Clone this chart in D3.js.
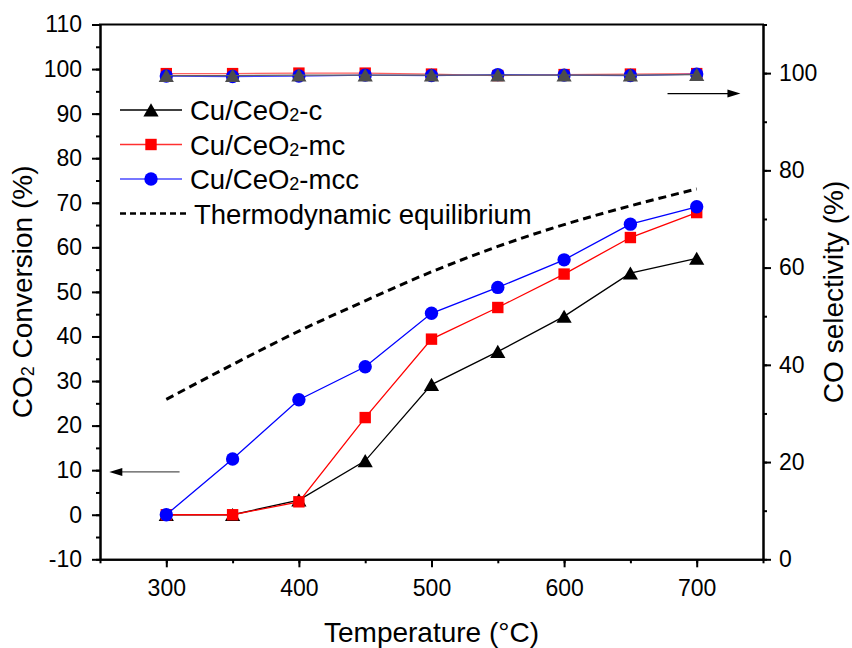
<!DOCTYPE html>
<html>
<head>
<meta charset="utf-8">
<script src="https://cdn.jsdelivr.net/npm/d3@7"></script>
<style>
  body { margin: 0; background: #fff; }
  svg { font-family: Arial, "Liberation Sans", sans-serif; }
</style>
</head>
<body>
<div class="container"></div>
<script>
const WIDTH = 852;
const HEIGHT = 648;

// temperatures (°C)
const temps = [300, 350, 400, 450, 500, 550, 600, 650, 700];

// CO2 conversion (%), left axis
const convC   = [0, 0, 3.3, 12.1, 29.2, 36.6, 44.5, 54.2, 57.5];
const convMC  = [0, 0, 2.9, 21.8, 39.4, 46.5, 54.0, 62.2, 67.8];
const convMCC = [0, 12.5, 25.8, 33.2, 45.2, 51.0, 57.2, 65.2, 69.1];
const equil   = [25.9, 33.7, 41.2, 48.0, 54.5, 60.2, 65.1, 69.3, 73.1];

// CO selectivity (%), right axis
const selC   = [99.5, 99.5, 99.6, 99.6, 99.6, 99.6, 99.6, 99.6, 99.7];
const selMC  = [99.9, 99.9, 100.0, 100.0, 99.8, 99.5, 99.7, 99.8, 99.9];
const selMCC = [99.4, 99.3, 99.4, 99.6, 99.5, 99.7, 99.6, 99.5, 99.8];

const xTicks = [300, 400, 500, 600, 700];
const yLeftTicks = [-10, 0, 10, 20, 30, 40, 50, 60, 70, 80, 90, 100, 110];
const yRightTicks = [0, 20, 40, 60, 80, 100];

const legendNames = ['c', 'mc', 'mcc'];

var margin = { top: 24.5, right: 89, bottom: 88.7, left: 100 };

var svg = d3.select('.container').append('svg')
  .attr('width', WIDTH)
  .attr('height', HEIGHT);

var x = d3.scaleLinear().domain([250, 750]).range([margin.left, WIDTH - margin.right]);
var yL = d3.scaleLinear().domain([-10, 110]).range([HEIGHT - margin.bottom, margin.top]);
var yR = d3.scaleLinear().domain([0, 110]).range([HEIGHT - margin.bottom, margin.top]);

var bottom = HEIGHT - margin.bottom;
var right = WIDTH - margin.right;
var plain = function (d) { return String(d); };

function styleAxis(g, fontSize) {
  g.selectAll('.domain').attr('stroke', '#000').attr('stroke-width', 2);
  g.selectAll('.tick line').attr('stroke', '#000').attr('stroke-width', 2);
  g.selectAll('.tick text').attr('fill', '#000').style('font-size', fontSize + 'px')
    .style('font-family', 'Arial, "Liberation Sans", sans-serif');
}

// minor ticks
svg.append('g').attr('transform', 'translate(0,' + bottom + ')')
  .call(d3.axisBottom(x).tickValues(d3.range(250, 751, 50)).tickSize(4).tickFormat('').tickSizeOuter(0))
  .call(function (g) { styleAxis(g, 0); });
svg.append('g').attr('transform', 'translate(' + margin.left + ',0)')
  .call(d3.axisLeft(yL).tickValues(d3.range(-10, 111, 5)).tickSize(4).tickFormat('').tickSizeOuter(0))
  .call(function (g) { styleAxis(g, 0); });
svg.append('g').attr('transform', 'translate(' + right + ',0)')
  .call(d3.axisRight(yR).tickValues(d3.range(0, 111, 10)).tickSize(4).tickFormat('').tickSizeOuter(0))
  .call(function (g) { styleAxis(g, 0); });

// major ticks
svg.append('g').attr('transform', 'translate(0,' + bottom + ')')
  .call(d3.axisBottom(x).tickValues(xTicks).tickFormat(plain).tickSize(8).tickPadding(12).tickSizeOuter(0))
  .call(function (g) { styleAxis(g, 23); });
svg.append('g').attr('transform', 'translate(' + margin.left + ',0)')
  .call(d3.axisLeft(yL).tickValues(yLeftTicks).tickFormat(plain).tickSize(8).tickPadding(10).tickSizeOuter(0))
  .call(function (g) { styleAxis(g, 23); });
svg.append('g').attr('transform', 'translate(' + right + ',0)')
  .call(d3.axisRight(yR).tickValues(yRightTicks).tickFormat(plain).tickSize(8).tickPadding(8).tickSizeOuter(0))
  .call(function (g) { styleAxis(g, 23); });

// top border
svg.append('line')
  .attr('x1', margin.left - 1).attr('x2', right + 1)
  .attr('y1', margin.top).attr('y2', margin.top)
  .attr('stroke', '#000').attr('stroke-width', 2);

// axis titles
svg.append('text')
  .attr('x', (margin.left + right) / 2).attr('y', 642)
  .attr('text-anchor', 'middle').style('font-size', '28px')
  .text('Temperature (°C)');

var lt = svg.append('text')
  .attr('transform', 'translate(32,' + (margin.top + bottom) / 2 + ') rotate(-90)')
  .attr('text-anchor', 'middle').style('font-size', '28px');
lt.append('tspan').text('CO');
lt.append('tspan').style('font-size', '18px').attr('dy', 2).text('2');
lt.append('tspan').attr('dy', -2).text(' Conversion (%)');

svg.append('text')
  .attr('transform', 'translate(843,' + (margin.top + bottom) / 2 + ') rotate(-90)')
  .attr('text-anchor', 'middle').style('font-size', '28px')
  .text('CO selectivity (%)');

// marker symbols
var sym = {
  c: d3.symbol().type(d3.symbolTriangle).size(100),
  mc: d3.symbol().type(d3.symbolSquare).size(130),
  mcc: d3.symbol().type(d3.symbolCircle).size(140)
};

function drawSeries(values, yScale, color, lineColor, shape) {
  var pts = temps.map(function (t, i) { return [t, values[i]]; });
  var line = d3.line().x(function (d) { return x(d[0]); }).y(function (d) { return yScale(d[1]); });
  svg.append('path').datum(pts)
    .attr('d', line).attr('fill', 'none')
    .attr('stroke', lineColor).attr('stroke-width', 1.3);
  svg.selectAll(null).data(pts).enter().append('path')
    .attr('transform', function (d) {
      var dy = shape === 'c' ? 2 : 0;
      return 'translate(' + x(d[0]) + ',' + (yScale(d[1]) + dy) + ')';
    })
    .attr('d', sym[shape]())
    .attr('fill', color);
}

// equilibrium
svg.append('path')
  .datum(temps.map(function (t, i) { return [t, equil[i]]; }))
  .attr('d', d3.line().curve(d3.curveMonotoneX)
    .x(function (d) { return x(d[0]); }).y(function (d) { return yL(d[1]); }))
  .attr('fill', 'none').attr('stroke', '#000').attr('stroke-width', 3)
  .attr('stroke-dasharray', '8,5');

// conversion series
drawSeries(convC, yL, '#000', '#000', 'c');
drawSeries(convMC, yL, '#ff0000', '#ff0000', 'mc');
drawSeries(convMCC, yL, '#0000ff', '#0000ff', 'mcc');

// selectivity series
drawSeries(selMC, yR, '#ff0000', '#ff6060', 'mc');
drawSeries(selMCC, yR, '#0000ff', '#4040ff', 'mcc');
drawSeries(selC, yR, '#4d4d4d', '#606060', 'c');

// legend
var legendY = d3.scaleLinear().domain([0, 3]).range([110, 213.5]);
var legendColors = ['#000', '#ff3030', '#4a4aff'];
var markerColors = ['#000', '#ff0000', '#0000ff'];
legendNames.forEach(function (n, i) {
  var ly = legendY(i);
  svg.append('line').attr('x1', 120).attr('x2', 182).attr('y1', ly).attr('y2', ly)
    .attr('stroke', legendColors[i]).attr('stroke-width', 1.3);
  svg.append('path').attr('transform', 'translate(151,' + (ly + (n === 'c' ? 2 : 0)) + ')')
    .attr('d', sym[n]()).attr('fill', markerColors[i]);
  var t = svg.append('text').attr('x', 190).attr('y', ly + 10).style('font-size', '27.5px');
  t.append('tspan').text('Cu/CeO');
  t.append('tspan').style('font-size', '18px').attr('dy', 1).text('2');
  t.append('tspan').attr('dy', -1).text('-' + n);
});
svg.append('line').attr('x1', 120).attr('x2', 186).attr('y1', legendY(3)).attr('y2', legendY(3))
  .attr('stroke', '#000').attr('stroke-width', 2.5).attr('stroke-dasharray', '6,4');
svg.append('text').attr('x', 194).attr('y', legendY(3) + 10).style('font-size', '27.5px')
  .text('Thermodynamic equilibrium');

// axis direction arrows (data coordinates)
const arrowLeft = { from: [310, 9.6], to: [257, 9.6] };
const arrowRight = { from: [678, 95.8], to: [733, 95.8] };

function arrow(a, yScale, color) {
  var x1 = x(a.from[0]), x2 = x(a.to[0]), yy = yScale(a.from[1]);
  var dir = x2 > x1 ? 1 : -1;
  svg.append('line').attr('x1', x1).attr('x2', x2 - dir * 10).attr('y1', yy).attr('y2', yy)
    .attr('stroke', color).attr('stroke-width', 1.3);
  svg.append('path')
    .attr('d', 'M' + x2 + ',' + yy + 'L' + (x2 - dir * 13) + ',' + (yy - 4) + 'L' + (x2 - dir * 13) + ',' + (yy + 4) + 'Z')
    .attr('fill', '#000');
}
arrow(arrowLeft, yL, '#555');
arrow(arrowRight, yR, '#000');
</script>
</body>
</html>
